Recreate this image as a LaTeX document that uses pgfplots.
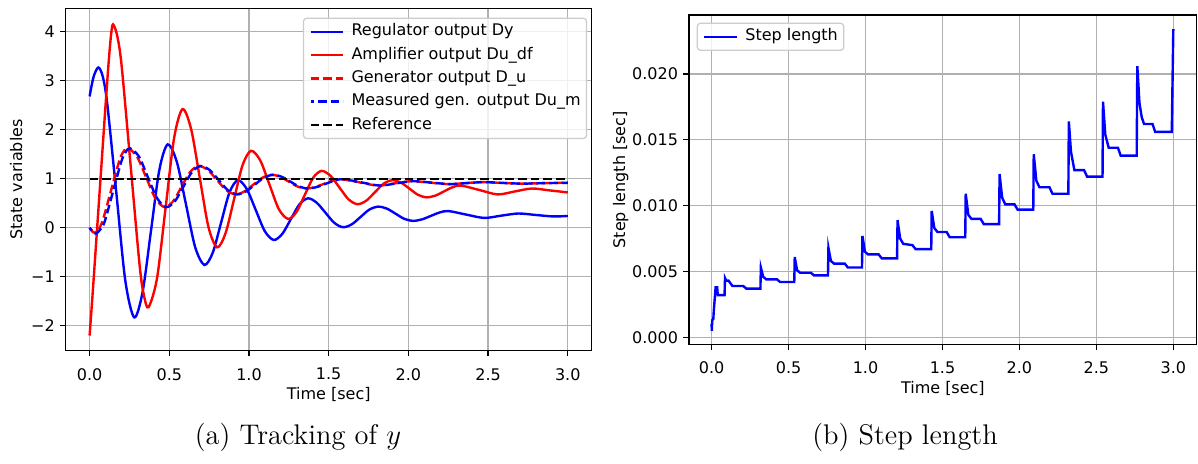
\documentclass[border=0pt]{standalone}
\usepackage{fontspec}
\usepackage{pgfplots}
\pgfplotsset{compat=1.18}
\newfontfamily\dejavu{DejaVu Sans}
\definecolor{gridgray}{RGB}{176,176,176}
\definecolor{legframe}{RGB}{204,204,204}
\newcommand{\mplfont}{\dejavu\fontsize{8}{9.6}\selectfont}

\pgfplotsset{
  mpl/.style={
    scale only axis,
    anchor=south west,
    font=\mplfont,
    tick label style={font=\mplfont},
    label style={font=\mplfont},
    axis line style={line width=0.64pt},
    grid=major,
    major grid style={line width=0.64pt, gridgray},
    tick align=outside, tick pos=left,
    major tick length=2.8pt,
    every tick/.style={black, line width=0.64pt},
    xticklabel style={inner sep=0pt, yshift=-5.8pt},
    yticklabel style={inner sep=0pt, xshift=-2.5pt},
    every axis x label/.style={at={([yshift=-21.9pt]axis description cs:0.5,0)}, anchor=center},
    legend cell align=left,
    legend image code/.code={\draw[##1, line width=1.2pt] (0pt,0pt) -- (16.3pt,0pt);},
    legend style={draw=legframe, line width=0.64pt, rounded corners=1.5pt,
      fill=white, fill opacity=0.8, text opacity=1,
      inner xsep=2.9pt, inner ysep=0.9pt,
      font=\mplfont, row sep=0pt, column sep=3.6pt,
      nodes={inner sep=0pt, text height=7.9pt, text depth=3.75pt}},
  },
  line/.style={line width=1.2pt},
  dash/.style={line width=1.2pt, dash pattern=on 4.4pt off 1.9pt},
}

\begin{document}
\begin{tikzpicture}
\path[use as bounding box] (0,0) rectangle (599pt,231.5pt);

% (a) tracking
\begin{axis}[mpl,
  at={(32.85pt,56.15pt)}, width=263pt, height=171.2pt,
  xmin=-0.15, xmax=3.15, ymin=-2.51, ymax=4.478,
  xtick={0,0.5,1,1.5,2,2.5,3}, xticklabels={0.0,0.5,1.0,1.5,2.0,2.5,3.0},
  ytick={-2,-1,0,1,2,3,4}, yticklabels={−2,−1,0,1,2,3,4},
  xlabel={Time [sec]}, ylabel={State variables},
  every axis y label/.style={at={([xshift=-24.75pt]axis description cs:0,0.5)}, rotate=90, anchor=center},
  legend style={at={(1,1)}, anchor=north east, xshift=-2.3pt, yshift=-4.7pt},
]
\addplot[line, blue, smooth] coordinates {
(0,2.68) (0.025,3.08) (0.055,3.27) (0.083,3.08) (0.111,2.52) (0.1675,0.72)
(0.224,-1.08) (0.28,-1.83) (0.3325,-1.31) (0.385,-0.065) (0.4375,1.18)
(0.49,1.70) (0.5475,1.34) (0.605,0.47) (0.6625,-0.40) (0.72,-0.76)
(0.7725,-0.51) (0.825,0.105) (0.8775,0.72) (0.93,0.97) (0.986,0.79)
(1.0425,0.36) (1.099,-0.07) (1.155,-0.25) (1.209,-0.125) (1.2625,0.175)
(1.316,0.475) (1.37,0.60) (1.425,0.51) (1.48,0.305) (1.535,0.10)
(1.59,0.01) (1.645,0.07) (1.70,0.22) (1.755,0.37) (1.81,0.43)
(1.865,0.39) (1.92,0.285) (1.975,0.18) (2.03,0.14) (2.085,0.17)
(2.14,0.24) (2.195,0.31) (2.25,0.34) (2.36,0.27) (2.475,0.20)
(2.58,0.245) (2.69,0.29) (2.80,0.26) (2.91,0.23) (3.0,0.24)
};
\addlegendentry{Regulator output Dy}
\addplot[line, red, smooth] coordinates {
(0,-2.2) (0.02,-1.3) (0.04,-0.35) (0.06,0.6) (0.08,1.55) (0.10,2.5)
(0.12,3.4) (0.135,3.95) (0.147,4.15) (0.173,3.92) (0.201,3.30)
(0.2575,1.265) (0.314,-0.775) (0.342,-1.40) (0.37,-1.62) (0.423,-1.03)
(0.4765,0.40) (0.53,1.83) (0.583,2.42) (0.637,2.01) (0.6915,1.01)
(0.746,0.01) (0.80,-0.40) (0.853,-0.11) (0.9065,0.585) (0.96,1.28)
(1.013,1.57) (1.071,1.37) (1.129,0.875) (1.187,0.38) (1.245,0.18)
(1.2975,0.32) (1.35,0.67) (1.4025,1.02) (1.455,1.16) (1.511,1.06)
(1.5675,0.82) (1.624,0.58) (1.68,0.48) (1.735,0.55) (1.79,0.725)
(1.845,0.90) (1.90,0.97) (1.954,0.92) (2.0075,0.795) (2.061,0.67)
(2.115,0.62) (2.169,0.655) (2.2225,0.74) (2.276,0.825) (2.33,0.86)
(2.445,0.77) (2.56,0.68) (2.6675,0.74) (2.775,0.80) (2.89,0.76) (3.0,0.72)
};
\addlegendentry{Amplifier output Du\_df}
\addplot[dash, red, smooth] coordinates {
(0,0) (0.015,-0.07) (0.03,-0.10) (0.056,-0.03) (0.0825,0.15) (0.135,0.765)
(0.1875,1.38) (0.214,1.56) (0.24,1.63) (0.2975,1.45) (0.355,1.025)
(0.4125,0.60) (0.47,0.42) (0.524,0.54) (0.5775,0.84) (0.631,1.14)
(0.685,1.26) (0.7425,1.175) (0.80,0.97) (0.8575,0.765) (0.915,0.68)
(0.971,0.74) (1.0275,0.88) (1.084,1.02) (1.14,1.08) (1.195,1.04)
(1.25,0.94) (1.305,0.84) (1.36,0.80) (1.415,0.83) (1.47,0.895)
(1.525,0.96) (1.58,0.99) (1.695,0.925) (1.81,0.86) (1.915,0.905)
(2.02,0.95) (2.135,0.92) (2.25,0.89) (2.355,0.91) (2.46,0.93)
(2.58,0.915) (2.70,0.90) (2.85,0.91) (3.0,0.92)
};
\addlegendentry{Generator output D\_u}
\addplot[dash, blue, smooth, dash phase=2.6pt] coordinates {
(0,0) (0.02,-0.08) (0.04,-0.12) (0.066,-0.04) (0.094,0.12) (0.147,0.74)
(0.20,1.36) (0.227,1.55) (0.254,1.62) (0.31,1.45) (0.367,1.02)
(0.424,0.60) (0.48,0.42) (0.535,0.54) (0.589,0.84) (0.643,1.14)
(0.697,1.26) (0.754,1.175) (0.811,0.97) (0.868,0.765) (0.925,0.68)
(0.981,0.74) (1.037,0.88) (1.093,1.02) (1.15,1.08) (1.205,1.04)
(1.26,0.94) (1.315,0.84) (1.37,0.80) (1.425,0.83) (1.48,0.895)
(1.535,0.96) (1.59,0.99) (1.705,0.925) (1.82,0.86) (1.925,0.905)
(2.03,0.95) (2.145,0.92) (2.26,0.89) (2.365,0.91) (2.47,0.93)
(2.59,0.915) (2.71,0.90) (2.86,0.91) (3.0,0.915)
};
\addlegendentry{Measured gen. output Du\_m}
\addplot[dash, black] coordinates {(0,1) (3,1)};
\addlegendentry{Reference}
\end{axis}

% (b) step length
\begin{axis}[mpl,
  at={(344.5pt,59.25pt)}, width=253.85pt, height=164.75pt,
  xmin=-0.147, xmax=3.152, ymin=-0.000547, ymax=0.02448,
  xtick={0,0.5,1,1.5,2,2.5,3}, xticklabels={0.0,0.5,1.0,1.5,2.0,2.5,3.0},
  ytick={0,0.005,0.01,0.015,0.02}, yticklabels={0.000,0.005,0.010,0.015,0.020},
  scaled y ticks=false,
  xlabel={Time [sec]}, ylabel={Step length [sec]},
  every axis y label/.style={at={([xshift=-34.1pt]axis description cs:0,0.5)}, rotate=90, anchor=center},
  legend style={at={(0,1)}, anchor=north west, xshift=3.85pt, yshift=-3.85pt},
]
\addplot[line, blue] coordinates {
(0.000,0.0010) (0.001,0.0005) (0.004,0.0013) (0.011,0.0014) (0.014,0.0020)
(0.026,0.0038) (0.036,0.0038) (0.040,0.0032) (0.084,0.0032) (0.087,0.0045)
(0.095,0.0043) (0.11,0.0043) (0.135,0.0039) (0.205,0.0039) (0.225,0.0037)
(0.317,0.0037) (0.320,0.0053) (0.335,0.0046) (0.355,0.0044) (0.425,0.0044)
(0.445,0.0042) (0.537,0.0042) (0.540,0.0061) (0.555,0.0051) (0.575,0.0049)
(0.645,0.0049) (0.665,0.0047) (0.756,0.0047) (0.759,0.0068) (0.775,0.0058)
(0.795,0.0056) (0.865,0.0056) (0.885,0.0053) (0.977,0.0053) (0.980,0.0077)
(0.996,0.0065) (1.016,0.0063) (1.085,0.0063) (1.105,0.0060) (1.205,0.0060)
(1.208,0.0089) (1.225,0.0075) (1.245,0.0071) (1.305,0.0070) (1.325,0.0067)
(1.427,0.0067) (1.430,0.0096) (1.447,0.0083) (1.467,0.0080) (1.527,0.0080)
(1.547,0.0076) (1.648,0.0076) (1.651,0.0109) (1.668,0.0093) (1.688,0.0090)
(1.748,0.0090) (1.768,0.0086) (1.868,0.0086) (1.871,0.0124) (1.888,0.0106)
(1.908,0.0101) (1.968,0.0101) (1.988,0.0097) (2.090,0.0097) (2.093,0.0139)
(2.110,0.0119) (2.130,0.0114) (2.195,0.0114) (2.215,0.0109) (2.318,0.0109)
(2.321,0.0164) (2.335,0.0141) (2.357,0.0127) (2.420,0.0127) (2.440,0.0122)
(2.540,0.0122) (2.543,0.0179) (2.558,0.0154) (2.580,0.0144) (2.640,0.0144)
(2.658,0.0138) (2.762,0.0138) (2.766,0.0206) (2.780,0.0178) (2.795,0.0167)
(2.810,0.0162) (2.865,0.0162) (2.882,0.0156) (2.990,0.0156) (3.000,0.0234)
};
\addlegendentry{Step length}
\end{axis}

\node[font=\fontsize{14.2}{17}\selectfont] at (149pt,13pt) {(a) Tracking of $y$};
\node[font=\fontsize{14.2}{17}\selectfont] at (452.5pt,13pt) {(b) Step length};
\end{tikzpicture}
\end{document}
